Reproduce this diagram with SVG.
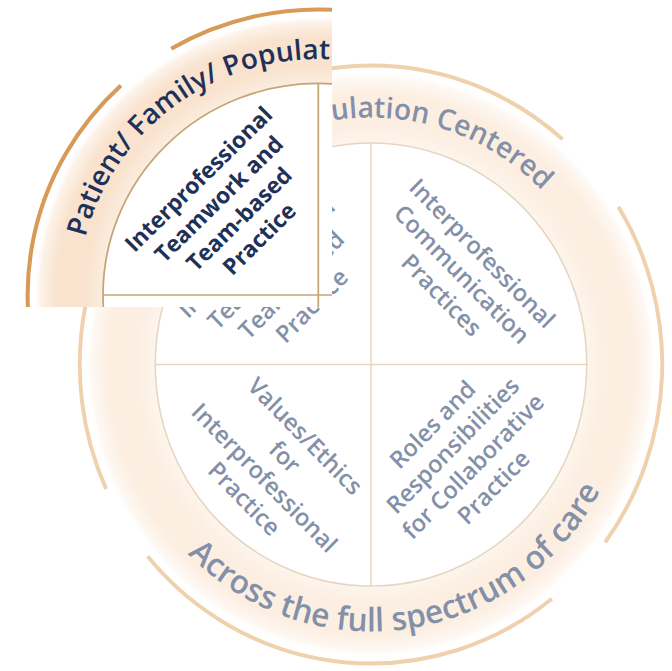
<svg xmlns="http://www.w3.org/2000/svg" xmlns:xlink="http://www.w3.org/1999/xlink" width="672" height="671" viewBox="0 0 672 671">
<defs>
<style>
.t{font-family:"Open Sans","Liberation Sans",sans-serif;font-weight:600;}
.q{font-size:24px;text-anchor:middle;}
.inset .q{font-weight:700;font-size:23.5px;}
.bt{font-size:29px;}
.bb{font-size:32.5px;}
.main .t{fill:#8390a8;}
.inset .t{fill:#1e3158;}
.main .ln{fill:none;stroke:#e6d6c1;stroke-width:1.6;}
.inset .ln{fill:none;stroke:#c6a574;stroke-width:1.8;}
.main .arc{fill:none;stroke:#efd1ad;stroke-width:4;}
.inset .arc{fill:none;stroke:#d79b57;stroke-width:4.2;}
</style>
<radialGradient id="gMain" gradientUnits="userSpaceOnUse" cx="0" cy="0" r="300">
<stop offset="0.72" stop-color="#fdf6ef"/>
<stop offset="0.80" stop-color="#fcefe2"/>
<stop offset="0.90" stop-color="#fcefe2"/>
<stop offset="0.955" stop-color="#fef8f3"/>
<stop offset="0.975" stop-color="#ffffff" stop-opacity="0"/>
</radialGradient>
<radialGradient id="gInset" gradientUnits="userSpaceOnUse" cx="0" cy="0" r="300">
<stop offset="0.72" stop-color="#fcf0e5"/>
<stop offset="0.80" stop-color="#f9e3ce"/>
<stop offset="0.90" stop-color="#f9e3ce"/>
<stop offset="0.955" stop-color="#fdf3ea"/>
<stop offset="0.975" stop-color="#ffffff" stop-opacity="0"/>
</radialGradient>
<path id="topPath" d="M -232.1 84.5 A 247 247 0 1 1 232.1 84.5"/>
<path id="botPath" d="M -250.9 -91.3 A 267 267 0 1 0 250.9 -91.3"/>
<clipPath id="insetClip"><rect x="0" y="0" width="332" height="307"/></clipPath>
</defs>
<rect width="672" height="671" fill="#ffffff"/>

<g id="main" class="main" transform="translate(371 364.5) scale(0.974 1)">
  <circle cx="0" cy="0" r="293" fill="url(#gMain)"/>
  <g id="outer-ring">
    <path class="arc" d="M -151.3 -257.9 A 299 299 0 0 1 196.7 -225.2"/>
    <path class="arc" d="M 254.1 -157.6 A 299 299 0 0 1 240.4 177.8"/>
    <path class="arc" d="M 185.7 234.3 A 299 299 0 0 1 -229.4 191.8"/>
    <path class="arc" d="M -271.9 124.5 A 299 299 0 0 1 -203.1 -219.4"/>
  </g>
  <circle class="ln" cx="0" cy="0" r="221.5" style="fill:#ffffff"/>
  <g id="connectors">
    <line class="ln" x1="0" y1="-221.5" x2="0" y2="221.5"/>
    <line class="ln" x1="-221.5" y1="0" x2="221.5" y2="0"/>
  </g>
  <text id="band-top" class="t bt"><textPath xlink:href="#topPath" href="#topPath" startOffset="409.5" text-anchor="middle">Patient/ Family/ Population Centered</textPath></text>
  <text id="band-bottom" class="t bb"><textPath xlink:href="#botPath" href="#botPath" startOffset="552" text-anchor="middle">Across the full spectrum of care</textPath></text>
  <g id="q-teamwork">
    <text class="t q" transform="translate(-92 -90) rotate(-45)"><tspan x="0" y="-36">Interprofessional</tspan><tspan x="0" y="-6.5">Teamwork and</tspan><tspan x="0" y="23">Team-based</tspan><tspan x="0" y="52.5">Practice</tspan></text>
  </g>
  <g id="q-communication">
    <text class="t q" transform="translate(93 -90) rotate(45)"><tspan x="0" y="-21.5">Interprofessional</tspan><tspan x="0" y="8">Communication</tspan><tspan x="0" y="37.5">Practices</tspan></text>
  </g>
  <g id="q-values">
    <text class="t q" transform="translate(-99 103) rotate(45)"><tspan x="0" y="-36">Values/Ethics</tspan><tspan x="0" y="-6.5">for</tspan><tspan x="0" y="23">Interprofessional</tspan><tspan x="0" y="52.5">Practice</tspan></text>
  </g>
  <g id="q-roles">
    <text class="t q" transform="translate(94.5 91.5) rotate(-45)"><tspan x="0" y="-36">Roles and</tspan><tspan x="0" y="-6.5">Responsibilities</tspan><tspan x="0" y="23">for Collaborative</tspan><tspan x="0" y="52.5">Practice</tspan></text>
  </g>
</g>

<g id="inset" class="inset" clip-path="url(#insetClip)">
  <rect x="0" y="0" width="332" height="307" fill="#ffffff"/>
  <g transform="translate(318.3 295) scale(0.972 0.955)">
    <circle cx="0" cy="0" r="293" fill="url(#gInset)"/>
    <g id="inset-ring">
      <path class="arc" d="M -151.3 -257.9 A 299 299 0 0 1 196.7 -225.2"/>
      <path class="arc" d="M -271.9 124.5 A 299 299 0 0 1 -203.1 -219.4"/>
    </g>
    <circle class="ln" cx="0" cy="0" r="221.5" style="fill:#ffffff"/>
    <g id="inset-connectors">
      <line class="ln" x1="0" y1="-221.5" x2="0" y2="221.5"/>
      <line class="ln" x1="-221.5" y1="0" x2="221.5" y2="0"/>
    </g>
    <text id="inset-band-top" class="t bt"><textPath xlink:href="#topPath" href="#topPath" startOffset="407" text-anchor="middle">Patient/ Family/ Population Centered</textPath></text>
    <g id="inset-q-teamwork">
      <text class="t q" transform="translate(-92 -90) rotate(-45)"><tspan x="0" y="-36">Interprofessional</tspan><tspan x="0" y="-6.5">Teamwork and</tspan><tspan x="0" y="23">Team-based</tspan><tspan x="0" y="52.5">Practice</tspan></text>
    </g>
  </g>
</g>
</svg>
